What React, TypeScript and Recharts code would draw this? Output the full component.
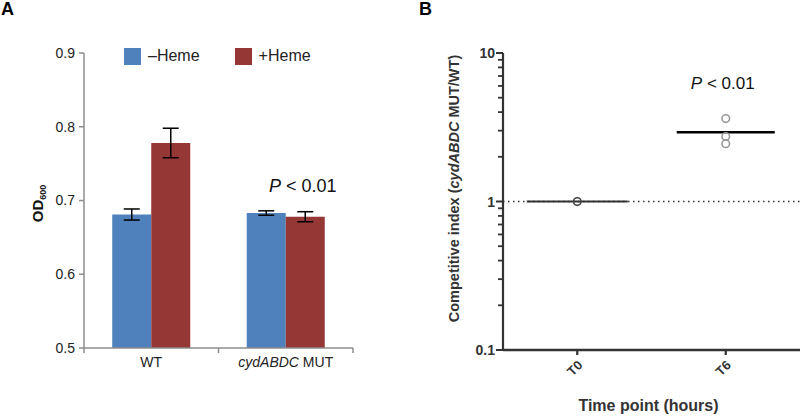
import React from "react";
import {
  BarChart, Bar, XAxis, YAxis, ErrorBar, Legend, ReferenceDot,
  ScatterChart, Scatter, ReferenceLine,
} from "recharts";

// panel A: OD600 with / without heme
const GROUPS = ["WT", "cydABDC MUT"];
const MINUS_HEME = [0.681, 0.683];
const MINUS_HEME_ERR = [0.0075, 0.003];
const PLUS_HEME = [0.778, 0.678];
const PLUS_HEME_ERR = [0.02, 0.0068];
const OD_TICKS = [0.5, 0.6, 0.7, 0.8, 0.9];

// panel B: competitive index
const TIMES = ["T0", "T6"];
const T0_INDEX = [1.0];
const T6_INDEX = [3.62, 2.74, 2.45];
const MEAN_INDEX = [1.0, 2.93];
const CI_MAJOR = [0.1, 1, 10];
const CI_MINOR_STEPS = [2, 3, 4, 5, 6, 7, 8, 9];

const BLUE = "#4f81bd";
const RED = "#953735";
const GREY_AXIS = "#8c8c8c";
const DARK = "#333";
const FONT = '"Liberation Sans", Arial, Helvetica, sans-serif';

const A_MARGIN = { top: 53, right: 47, bottom: 38, left: 24 };
const A_YW = 60;
const A_BAND = (400 - A_MARGIN.left - A_MARGIN.right - A_YW) / GROUPS.length;

const B_MARGIN = { top: 53, right: 0, bottom: 26, left: 43 };
const B_XH = 40;
const B_PLOT_H = 416 - B_MARGIN.top - B_MARGIN.bottom - B_XH;
const B_DECADE = B_PLOT_H / Math.log10(CI_MAJOR[CI_MAJOR.length - 1] / CI_MAJOR[0]);

const barData = GROUPS.map((g, i) => ({
  group: g,
  minus: MINUS_HEME[i],
  minusErr: MINUS_HEME_ERR[i],
  plus: PLUS_HEME[i],
  plusErr: PLUS_HEME_ERR[i],
}));

const t0Data = T0_INDEX.map((v) => ({ t: TIMES.indexOf("T0"), v }));
const t6Data = T6_INDEX.map((v) => ({ t: TIMES.indexOf("T6"), v }));

function GroupTick({ x, y, payload, index }: any) {
  const label = payload.value as string;
  const italic = label.startsWith("cydABDC");
  return (
    <g>
      {index === 0 && (
        <line x1={x - A_BAND / 2} x2={x - A_BAND / 2} y1={y} y2={y + 5} stroke={GREY_AXIS} strokeWidth={1.5} />
      )}
      <line x1={x + A_BAND / 2} x2={x + A_BAND / 2} y1={y} y2={y + 5} stroke={GREY_AXIS} strokeWidth={1.5} />
      <text x={x} y={y + 19} textAnchor="middle" fontSize={14} fill="#222">
        {italic ? (
          <>
            <tspan fontStyle="italic">cydABDC</tspan>
            <tspan> MUT</tspan>
          </>
        ) : (
          label
        )}
      </text>
    </g>
  );
}

function HemeLegend() {
  const item = (color: string, text: string, gap: number) => (
    <div style={{ display: "flex", alignItems: "center", marginRight: gap }}>
      <div style={{ width: 17, height: 17, background: color, marginRight: 7 }} />
      <span style={{ fontSize: 16, color: "#222" }}>{text}</span>
    </div>
  );
  return (
    <div style={{ display: "flex", fontFamily: FONT }}>
      {item(BLUE, "\u2013Heme", 35)}
      {item(RED, "+Heme", 0)}
    </div>
  );
}

function PLabel({ viewBox, size, dx }: any) {
  const cx = viewBox.x + (viewBox.width || 0) / 2 + dx;
  const cy = viewBox.y + (viewBox.height || 0) / 2;
  return (
    <text x={cx} y={cy + 6} textAnchor="middle" fontSize={size} fill="#111">
      <tspan fontStyle="italic">P</tspan>
      <tspan> &lt; 0.01</tspan>
    </text>
  );
}

// major log ticks carry the minor ticks of the decade above them
function LogTick({ x, y, payload }: any) {
  const v = payload.value as number;
  const last = v === CI_MAJOR[CI_MAJOR.length - 1];
  return (
    <g>
      <path d={`M${x},${y}H${x - 7}`} stroke={DARK} strokeWidth={2} fill="none" />
      {!last &&
        CI_MINOR_STEPS.map((k) => {
          const yy = y - Math.log10(k) * B_DECADE;
          return <path key={k} d={`M${x},${yy}H${x - 5}`} stroke={DARK} strokeWidth={1.8} fill="none" />;
        })}
      <text x={x - 8} y={y + 5} textAnchor="end" fontSize={14} fontWeight="bold" fill={DARK}>
        {v}
      </text>
    </g>
  );
}

function TimeTick({ x, y, payload }: any) {
  return (
    <g>
      <path d={`M${x},${y}V${y + 5}`} stroke={DARK} strokeWidth={2.2} fill="none" />
      <text
        transform={`translate(${x + 6},${y + 16}) rotate(-45)`}
        textAnchor="end"
        fontSize={13}
        fontWeight="bold"
        fill={DARK}
      >
        {TIMES[payload.value]}
      </text>
    </g>
  );
}

const ring = (color: string) => (p: any) => (
  <circle cx={p.cx} cy={p.cy} r={3.8} fill="none" stroke={color} strokeWidth={1.6} />
);

export default function App() {
  return (
    <div style={{ position: "absolute", left: 0, top: 0, width: 800, height: 416, background: "#fff", fontFamily: FONT }}>
      <div style={{ position: "absolute", left: 1, top: 0, fontSize: 18, lineHeight: "18px", fontWeight: "bold" }}>A</div>
      <div style={{ position: "absolute", left: 419, top: 0, fontSize: 18, lineHeight: "18px", fontWeight: "bold" }}>B</div>

      <div style={{ position: "absolute", left: 0, top: 0 }}>
        <BarChart width={400} height={416} data={barData} margin={A_MARGIN} barGap={0} barCategoryGap="21%">
          <XAxis
            dataKey="group"
            height={30}
            stroke={GREY_AXIS}
            strokeWidth={1.5}
            tickLine={false}
            tickSize={0}
            tickMargin={0}
            tick={<GroupTick />}
            interval={0}
          />
          <YAxis
            width={A_YW}
            domain={[0.5, 0.9]}
            ticks={OD_TICKS}
            interval={0}
            tickFormatter={(v) => v.toFixed(1)}
            stroke={GREY_AXIS}
            strokeWidth={1.5}
            tickSize={5}
            tickMargin={4}
            tick={{ fontSize: 14, fill: "#222" }}
            label={{
              content: (p: any) => {
                const vb = p.viewBox;
                const cx = vb.x + 19;
                const cy = vb.y + vb.height / 2 + 3;
                return (
                  <text transform={`translate(${cx},${cy}) rotate(-90)`} textAnchor="middle" fontWeight="bold" fill="#111">
                    <tspan fontSize={15}>OD</tspan>
                    <tspan fontSize={9} dy={3}>600</tspan>
                  </text>
                );
              },
            }}
          />
          <Legend
            layout="horizontal"
            verticalAlign="middle"
            align="center"
            content={<HemeLegend />}
            wrapperStyle={{ top: 47, left: 124, width: "auto" }}
          />
          <Bar dataKey="minus" fill={BLUE} isAnimationActive={false}>
            <ErrorBar dataKey="minusErr" width={8} stroke="#000" strokeWidth={1.5} isAnimationActive={false} />
          </Bar>
          <Bar dataKey="plus" fill={RED} isAnimationActive={false}>
            <ErrorBar dataKey="plusErr" width={8} stroke="#000" strokeWidth={1.5} isAnimationActive={false} />
          </Bar>
          <ReferenceDot
            x={GROUPS[1]}
            y={0.72}
            r={0}
            fill="none"
            stroke="none"
            label={{ content: (p: any) => <PLabel viewBox={p.viewBox} size={18} dx={17} /> }}
          />
        </BarChart>
      </div>

      <div style={{ position: "absolute", left: 400, top: 0 }}>
        <ScatterChart width={400} height={416} margin={B_MARGIN}>
          <XAxis
            type="number"
            dataKey="t"
            domain={[-0.5, 1.5]}
            ticks={[0, 1]}
            interval={0}
            height={B_XH}
            stroke={DARK}
            strokeWidth={2.5}
            tickLine={false}
            tickSize={0}
            tickMargin={0}
            tick={<TimeTick />}
            label={{
              content: (p: any) => {
                const vb = p.viewBox;
                return (
                  <text x={vb.x + vb.width / 2 - 3} y={vb.y + 61} textAnchor="middle" fontSize={16} fontWeight="bold" fill={DARK}>
                    Time point (hours)
                  </text>
                );
              },
            }}
          />
          <YAxis
            type="number"
            dataKey="v"
            scale="log"
            domain={[CI_MAJOR[0], CI_MAJOR[CI_MAJOR.length - 1]]}
            allowDataOverflow
            ticks={CI_MAJOR}
            interval={0}
            width={60}
            stroke={DARK}
            strokeWidth={2.2}
            tickLine={false}
            tickSize={0}
            tickMargin={0}
            tick={<LogTick />}
            label={{
              content: (p: any) => {
                const vb = p.viewBox;
                const cx = vb.x + 16;
                const cy = vb.y + vb.height / 2 - 13;
                return (
                  <text transform={`translate(${cx},${cy}) rotate(-90)`} textAnchor="middle" fontSize={14.5} fontWeight="bold" fill={DARK}>
                    <tspan>Competitive index (</tspan>
                    <tspan fontStyle="italic">cydABDC</tspan>
                    <tspan> MUT/WT)</tspan>
                  </text>
                );
              },
            }}
          />
          <ReferenceLine y={1} stroke={DARK} strokeWidth={1.5} strokeDasharray="1.5 3.5" />
          <ReferenceLine
            segment={[{ x: -0.34, y: MEAN_INDEX[0] }, { x: 0.34, y: MEAN_INDEX[0] }]}
            stroke={DARK}
            strokeWidth={2}
          />
          <ReferenceLine
            segment={[{ x: 0.67, y: MEAN_INDEX[1] }, { x: 1.33, y: MEAN_INDEX[1] }]}
            stroke="#000"
            strokeWidth={2.5}
          />
          <Scatter data={t0Data} shape={ring("#444")} isAnimationActive={false} />
          <Scatter data={t6Data} shape={ring("#9a9a9a")} isAnimationActive={false} />
          <ReferenceDot
            x={1}
            y={6.3}
            r={0}
            fill="none"
            stroke="none"
            label={{ content: (p: any) => <PLabel viewBox={p.viewBox} size={17} dx={-3} /> }}
          />
        </ScatterChart>
      </div>
    </div>
  );
}
